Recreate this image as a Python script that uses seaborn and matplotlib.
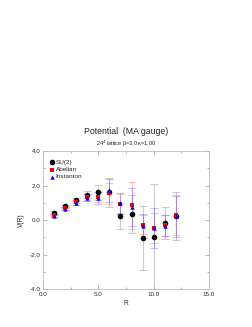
import numpy as np
import pandas as pd
import matplotlib
matplotlib.use("Agg")
import matplotlib.pyplot as plt
import seaborn as sns
from matplotlib.ticker import MultipleLocator, FormatStrFormatter

# -----------------------------
# Data
# -----------------------------
R = [1, 2, 3, 4, 5, 6, 7, 8, 9, 10, 11, 12]

su2 = [0.42, 0.80, 1.15, 1.48, 1.60, 1.60, 0.22, 0.35, -1.05, -0.97, -0.19, 0.25]
su2_err = [0.10, 0.10, 0.15, 0.22, 0.45, 0.85, 0.75, 1.10, 1.85, 3.05, 0.93, 1.40]

abel = [0.28, 0.68, 1.02, 1.33, 1.33, 1.55, 0.95, 0.85, -0.28, -0.48, -0.30, 0.28]
abel_err = [0.08, 0.08, 0.12, 0.20, 0.30, 0.60, 0.55, 1.35, 0.55, 0.87, 0.62, 1.15]

inst = [0.25, 0.65, 1.00, 1.30, 1.28, 1.72, 0.98, 0.75, -0.35, -0.45, -0.33, 0.22]
inst_err = [0.08, 0.08, 0.12, 0.22, 0.35, 0.65, 0.60, 1.10, 0.70, 1.15, 0.62, 1.20]

series = ["SU(2)", "Abelian", "Instanton"]

df = pd.DataFrame({
    "R": R * 3,
    "V": su2 + abel + inst,
    "err": su2_err + abel_err + inst_err,
    "kind": [s for s in series for _ in R],
})

# -----------------------------
# Style
# -----------------------------
sns.set_style("ticks")
plt.rcParams["font.family"] = ["Liberation Sans", "DejaVu Sans"]

colors = {"SU(2)": "#000000", "Abelian": "#ee0000", "Instanton": "#0000ee"}
err_colors = {"SU(2)": ("#b8b8b8", 0.7), "Abelian": ("#ff5555", 0.35), "Instanton": ("#5555ff", 0.35)}
markers = {"SU(2)": "o", "Abelian": "s", "Instanton": "^"}
sizes = {"SU(2)": 16, "Abelian": 9, "Instanton": 10}

fig = plt.figure(figsize=(2.53, 3.27), dpi=100)
ax = fig.add_axes([0.170, 0.116, 0.656, 0.422])

# error bars first
for s in series:
    d = df[df["kind"] == s]
    c, a = err_colors[s]
    ax.errorbar(d["R"], d["V"], yerr=d["err"], fmt="none",
                ecolor=c, alpha=a, elinewidth=0.8, capsize=3, capthick=0.8)

for s in series:
    d = df[df["kind"] == s]
    sns.scatterplot(data=d, x="R", y="V", color=colors[s], marker=markers[s],
                    s=sizes[s], linewidth=0, label=s, ax=ax, zorder=3)

ax.set_xlim(0, 15)
ax.set_ylim(-4, 4)
ax.xaxis.set_major_locator(MultipleLocator(5))
ax.xaxis.set_minor_locator(MultipleLocator(2.5))
ax.yaxis.set_major_locator(MultipleLocator(2))
ax.yaxis.set_minor_locator(MultipleLocator(1))
ax.xaxis.set_major_formatter(FormatStrFormatter("%.1f"))
ax.yaxis.set_major_formatter(FormatStrFormatter("%.1f"))
ax.tick_params(which="both", direction="in", top=True, right=True,
               color="#999999", width=0.5, labelsize=4.5, pad=2)
ax.tick_params(which="major", length=3)
ax.tick_params(which="minor", length=1.5)
for sp in ax.spines.values():
    sp.set_color("#bbbbbb")
    sp.set_linewidth(0.6)

ax.set_xlabel("R", fontsize=4.8, labelpad=2)
ax.set_ylabel("V(R)", fontsize=4.8, labelpad=3)

ax.legend(loc="upper left", bbox_to_anchor=(0.01, 0.97), frameon=False,
          fontsize=4.6, handletextpad=0.05, labelspacing=0.25,
          borderpad=0.2, handlelength=1.0, markerscale=1.0)

fig.text(0.498, 0.597, "Potential  (MA gauge)", ha="center", va="center", fontsize=6.3)
fig.text(0.498, 0.561, "24$^4$ lattice β=3.0 κ=1.00",
         ha="center", va="center", fontsize=4.0)

fig.savefig("out.png", dpi=100)
